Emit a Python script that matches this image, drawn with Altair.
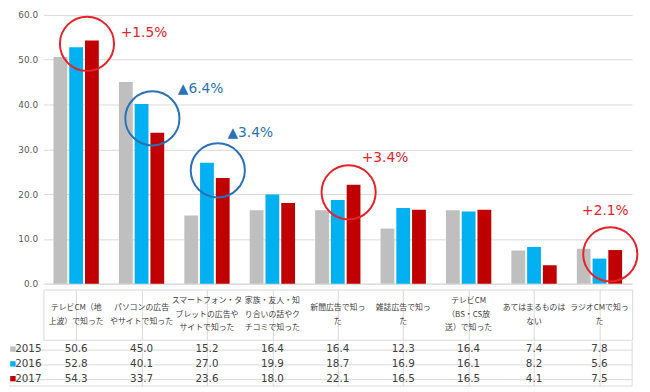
import altair as alt
import pandas as pd

# ---------------- data ----------------
categories = [
    "テレビCM（地上波）で知った",
    "パソコンの広告やサイトで知った",
    "スマートフォン・タブレットの広告やサイトで知った",
    "家族・友人・知り合いの話やクチコミで知った",
    "新聞広告で知った",
    "雑誌広告で知った",
    "テレビCM（BS・CS放送）で知った",
    "あてはまるものはない",
    "ラジオCMで知った",
]
header_lines = [
    "テレビCM（地\n上波）で知った",
    "パソコンの広告\nやサイトで知った",
    "スマートフォン・タ\nブレットの広告や\nサイトで知った",
    "家族・友人・知\nり合いの話やク\nチコミで知った",
    "新聞広告で知っ\nた",
    "雑誌広告で知っ\nた",
    "テレビCM\n（BS・CS放\n送）で知った",
    "あてはまるものは\nない",
    "ラジオCMで知っ\nた",
]
years = ["2015", "2016", "2017"]
v2015 = [50.6, 45.0, 15.2, 16.4, 16.4, 12.3, 16.4, 7.4, 7.8]
v2016 = [52.8, 40.1, 27.0, 19.9, 18.7, 16.9, 16.1, 8.2, 5.6]
v2017 = [54.3, 33.7, 23.6, 18.0, 22.1, 16.5, 16.5, 4.1, 7.5]
y_ticks = [0, 10, 20, 30, 40, 50, 60]

# annotations: category index, label, kind
ann_index = [0, 1, 2, 4, 8]
ann_labels = ["+1.5%", "▲6.4%", "▲3.4%", "+3.4%", "+2.1%"]
ann_kind = ["up", "down", "down", "up", "up"]

# ---------------- styles / layout ----------------
bar_colors = ["#BFBFBF", "#00B0F0", "#C00000"]
kind_color = {"up": "#E8222A", "down": "#2A72B8"}
ann_text_offset = [(59, -11), (50, -30), (34, -38), (38, -35), (-4, -44)]
GRID = "#D9D9D9"
TXT = "#404040"
W = 598
H_TOP = 273
H_HDR = 51
H_VAL = 45
LINE_H = 14

df_long = pd.DataFrame(
    [
        {"cat": c, "year": y, "value": v}
        for y, vals in zip(years, [v2015, v2016, v2017])
        for c, v in zip(categories, vals)
    ]
)
df_years = pd.DataFrame({"year": years})
df_hdr = pd.DataFrame(
    {"cat": categories, "label": header_lines, "n": [h.count("\n") + 1 for h in header_lines]}
)

xscale = alt.Scale(domain=categories, paddingInner=0, paddingOuter=0)
yscale = alt.Scale(domain=[0, 60], nice=False)
color_scale = alt.Scale(domain=years, range=bar_colors)

# ---------------- top bar chart ----------------
bars = alt.Chart(df_long).mark_bar().encode(
    x=alt.X(
        "cat:N",
        scale=xscale,
        axis=alt.Axis(labels=False, ticks=False, domainColor=GRID, title=None, grid=False),
    ),
    xOffset=alt.XOffset(
        "year:N", scale=alt.Scale(domain=years, paddingInner=0.125, paddingOuter=0.6375)
    ),
    y=alt.Y(
        "value:Q",
        scale=yscale,
        axis=alt.Axis(
            values=y_ticks,
            format=".1f",
            title=None,
            domain=False,
            ticks=False,
            labelPadding=6,
            labelFontSize=9,
            labelColor="#595959",
            labelFont="DejaVu Sans",
            gridColor=GRID,
        ),
    ),
    color=alt.Color("year:N", scale=color_scale, legend=None),
)

ann_layers = []
for i, idx in enumerate(ann_index):
    cat = categories[idx]
    center = (v2016[idx] + v2017[idx]) / 2
    d = pd.DataFrame({"cat": [cat], "value": [center], "label": [ann_labels[i]]})
    col = kind_color[ann_kind[i]]
    circ = alt.Chart(d).mark_point(
        shape="circle", filled=False, strokeWidth=2, size=3025, xOffset=11,
        color=col, opacity=1,
    ).encode(x=alt.X("cat:N", scale=xscale), y=alt.Y("value:Q", scale=yscale))
    dx, dy = ann_text_offset[i]
    txt = alt.Chart(d).mark_text(
        font="DejaVu Sans", fontSize=14, color=col, xOffset=10, dx=dx, dy=dy,
    ).encode(x=alt.X("cat:N", scale=xscale), y=alt.Y("value:Q", scale=yscale), text="label:N")
    ann_layers += [circ, txt]

top = alt.layer(bars, *ann_layers).properties(width=W, height=H_TOP)

# ---------------- table header ----------------
hdr_x_axis = alt.Axis(grid=True, bandPosition=0, gridColor=GRID, labels=False,
                      ticks=False, domain=False, title=None)
hdr_layers = []
for n in sorted(df_hdr["n"].unique()):
    hdr_layers.append(
        alt.Chart(df_hdr[df_hdr["n"] == n]).mark_text(
            font="Noto Sans CJK JP", fontSize=8, lineBreak="\n", lineHeight=LINE_H,
            color=TXT, baseline="middle", dy=-(n - 1) * LINE_H / 2,
        ).encode(
            x=alt.X("cat:N", scale=xscale, axis=hdr_x_axis),
            text="label:N",
        )
    )
hdr = alt.layer(*hdr_layers).properties(
    width=W, height=H_HDR, view=alt.ViewBackground(stroke=GRID)
)

# ---------------- table values ----------------
yrow = alt.Scale(domain=years, paddingInner=0, paddingOuter=0)
vtext = alt.Chart(df_long).mark_text(font="DejaVu Sans", fontSize=10.5, color=TXT).encode(
    x=alt.X(
        "cat:N",
        scale=xscale,
        axis=alt.Axis(grid=True, bandPosition=0, gridColor=GRID,
                      gridOpacity={"condition": {"test": "datum.index === 0", "value": 0}, "value": 1},
                      labels=False, ticks=False, domain=False, title=None),
    ),
    y=alt.Y(
        "year:N",
        scale=yrow,
        axis=alt.Axis(grid=True, bandPosition=0, gridColor=GRID, labels=False,
                      ticks=True, tickSize=35, tickColor=GRID, domain=False, title=None),
    ),
    text=alt.Text("value:Q", format=".1f"),
)
ylab = alt.Chart(df_years).mark_text(
    align="right", font="DejaVu Sans", fontSize=10.5, color=TXT
).encode(x=alt.value(-2), y=alt.Y("year:N", scale=yrow), text="year:N")
ysq = alt.Chart(df_years).mark_square(size=30, opacity=1).encode(
    x=alt.value(-31),
    y=alt.Y("year:N", scale=yrow),
    color=alt.Color("year:N", scale=color_scale, legend=None),
)
bottom = alt.Chart(df_years.head(1)).mark_rule(color=GRID).encode(
    x=alt.value(-35), x2=alt.value(W), y=alt.value(H_VAL)
)
right = alt.Chart(df_years.head(1)).mark_rule(color=GRID).encode(
    x=alt.value(W), y=alt.value(0), y2=alt.value(H_VAL)
)
vals = alt.layer(vtext, ylab, ysq, bottom, right).properties(width=W, height=H_VAL)

chart = (
    alt.vconcat(top, hdr, vals, spacing=0)
    .properties(padding={"left": 0, "top": 0, "right": 0, "bottom": 0}, background="white")
    .configure_view(stroke=None)
)

chart.save("out.html", embed_options={"renderer": "svg", "actions": False})
